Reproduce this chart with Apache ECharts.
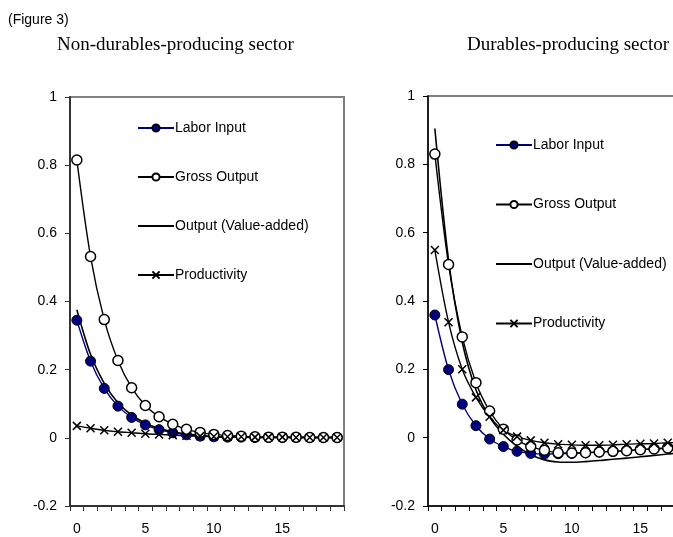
<!DOCTYPE html>
<html>
<head>
<meta charset="utf-8">
<script src="https://cdn.jsdelivr.net/npm/echarts@6/dist/echarts.min.js"></script>
<style>
  html, body { margin: 0; padding: 0; background: #fff; }
  #chart { width: 673px; height: 537px; }
</style>
</head>
<body>
<div id="chart"></div>
<script>
const periods = ['0','1','2','3','4','5','6','7','8','9','10','11','12','13','14','15','16','17','18','19']

// Non-durables-producing sector
const ndLabor = [0.345, 0.225, 0.145, 0.093, 0.060, 0.038, 0.024, 0.015, 0.009, 0.005, 0.003, 0.002, 0.002, 0.001, 0.001, 0.001, 0.001, 0.001, 0.001, 0.001]
const ndGross = [0.815, 0.532, 0.347, 0.227, 0.147, 0.095, 0.062, 0.040, 0.025, 0.016, 0.010, 0.007, 0.005, 0.003, 0.002, 0.002, 0.002, 0.001, 0.001, 0.001]
const ndValueAdded = [0.376, 0.245, 0.160, 0.103, 0.067, 0.043, 0.028, 0.018, 0.011, 0.007, 0.004, 0.003, 0.002, 0.001, 0.001, 0.001, 0.001, 0.001, 0.001, 0.001]
const ndProductivity = [0.035, 0.028, 0.022, 0.018, 0.015, 0.012, 0.010, 0.008, 0.006, 0.005, 0.004, 0.003, 0.003, 0.002, 0.002, 0.002, 0.001, 0.001, 0.001, 0.001]

// Durables-producing sector
const dLabor = [0.359, 0.199, 0.098, 0.035, -0.004, -0.026, -0.040, -0.046, -0.048, -0.047, -0.046, -0.044, -0.042, -0.040, -0.038, -0.035, -0.033, -0.030, -0.028, -0.026]
const dGross = [0.830, 0.507, 0.295, 0.161, 0.078, 0.025, -0.007, -0.026, -0.037, -0.044, -0.045, -0.044, -0.042, -0.040, -0.038, -0.035, -0.033, -0.030, -0.028, -0.026]
const dValueAdded = [0.905, 0.520, 0.280, 0.140, 0.060, 0.010, -0.025, -0.050, -0.065, -0.071, -0.072, -0.070, -0.067, -0.063, -0.060, -0.056, -0.052, -0.048, -0.044, -0.041]
const dProductivity = [0.549, 0.338, 0.200, 0.118, 0.061, 0.022, 0.003, -0.008, -0.015, -0.019, -0.021, -0.022, -0.022, -0.021, -0.019, -0.018, -0.017, -0.015, -0.014, -0.013]

const seriesNames = ['Labor Input', 'Gross Output', 'Output (Value-added)', 'Productivity']
const yTicks = { min: -0.2, max: 1, interval: 0.2 }

const crossPath = 'path://M0,0L10,10M10,0L0,10'
const sans = 'Liberation Sans, Arial'
const serif = 'Liberation Serif, Times New Roman'
const axisFont = { color: '#000', fontSize: 14, fontFamily: sans }

const chart = echarts.init(document.getElementById('chart'))

const xAxisFor = (gridIndex, lineColor, lineWidth) => ({
  type: 'category',
  gridIndex,
  data: periods,
  boundaryGap: true,
  axisLine: { onZero: false, lineStyle: { color: lineColor, width: lineWidth } },
  axisTick: { show: true, interval: 0, length: 5, lineStyle: { color: lineColor, width: 1 } },
  axisLabel: { ...axisFont, interval: 4, margin: 16 },
  splitLine: { show: false }
})

const yAxisFor = (gridIndex, lineColor, lineWidth) => ({
  type: 'value',
  gridIndex,
  min: yTicks.min,
  max: yTicks.max,
  interval: yTicks.interval,
  axisLine: { show: true, onZero: false, lineStyle: { color: lineColor, width: lineWidth } },
  axisTick: { show: true, length: 5, lineStyle: { color: lineColor, width: 1 } },
  axisLabel: { ...axisFont, margin: 13 },
  splitLine: { show: false }
})

const panelSeries = (idx, labor, gross, va, prod, size) => [
  {
    name: seriesNames[0], type: 'line', xAxisIndex: idx, yAxisIndex: idx, data: labor,
    smooth: 0.3, symbol: 'circle', symbolSize: size, showAllSymbol: true,
    lineStyle: { color: '#000080', width: 1.4 },
    itemStyle: { color: '#000080', borderColor: '#000', borderWidth: 1 }
  },
  {
    name: seriesNames[1], type: 'line', xAxisIndex: idx, yAxisIndex: idx, data: gross,
    smooth: 0.3, symbol: 'circle', symbolSize: size, showAllSymbol: true,
    lineStyle: { color: '#000', width: 1.4 },
    itemStyle: { color: '#fff', borderColor: '#000', borderWidth: 1.5 }
  },
  {
    name: seriesNames[2], type: 'line', xAxisIndex: idx, yAxisIndex: idx, data: va,
    smooth: 0.3, symbol: 'none',
    lineStyle: { color: '#000', width: 1.6 },
    itemStyle: { color: '#000' }
  },
  {
    name: seriesNames[3], type: 'line', xAxisIndex: idx, yAxisIndex: idx, data: prod,
    smooth: 0.3, symbol: crossPath, symbolSize: 8, showAllSymbol: true,
    lineStyle: { color: '#000', width: 1.4 },
    itemStyle: { color: '#000', borderColor: '#000', borderWidth: 1.5 }
  }
]

const legendFor = (left, top, gap) => ({
  orient: 'vertical',
  left,
  top,
  itemWidth: 36,
  itemHeight: 9,
  itemGap: gap,
  selectedMode: false,
  data: [
    seriesNames[0],
    seriesNames[1],
    { name: seriesNames[2], itemStyle: { opacity: 0 } },
    seriesNames[3]
  ],
  textStyle: { color: '#000', fontSize: 14, lineHeight: 14, fontFamily: sans, padding: [0, 0, 0, -4] }
})

chart.setOption({
  animation: false,
  title: [
    { text: '(Figure 3)', left: 3, top: 8, textStyle: { color: '#000', fontSize: 14, fontWeight: 'normal', fontFamily: sans } },
    { text: 'Non-durables-producing sector', left: 52, top: 31, textStyle: { color: '#000', fontSize: 19, fontWeight: 'normal', fontFamily: serif } },
    { text: 'Durables-producing sector', left: 462, top: 31, textStyle: { color: '#000', fontSize: 19, fontWeight: 'normal', fontFamily: serif } }
  ],
  legend: [
    legendFor(132, 116, 35),
    legendFor(490, 133, 45.5)
  ],
  grid: [
    { left: 70, top: 97, width: 274, height: 409, show: true, borderColor: '#808080', borderWidth: 2, backgroundColor: 'transparent', outerBoundsMode: 'none' },
    { left: 428, top: 96, width: 274, height: 410, show: true, borderColor: '#808080', borderWidth: 2, backgroundColor: 'transparent', outerBoundsMode: 'none' }
  ],
  xAxis: [xAxisFor(0, '#333', 2), xAxisFor(1, '#000', 1.5)],
  yAxis: [yAxisFor(0, '#333', 2), yAxisFor(1, '#000', 1.5)],
  series: [
    ...panelSeries(0, ndLabor, ndGross, ndValueAdded, ndProductivity, 10),
    ...panelSeries(1, dLabor, dGross, dValueAdded, dProductivity, 10)
  ]
})
</script>
</body>
</html>
